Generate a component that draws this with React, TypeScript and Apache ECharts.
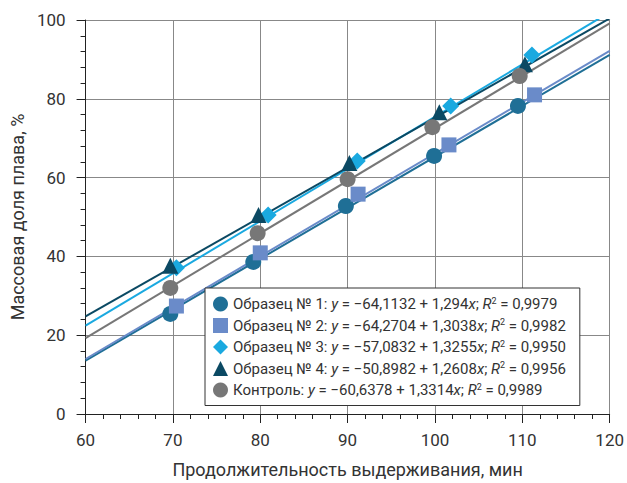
import React, { useEffect, useRef } from "react";
import * as echarts from "echarts";

const seriesNames = ["Образец № 1", "Образец № 2", "Образец № 3", "Образец № 4", "Контроль"];
const s1X = [69.7, 79.2, 89.8, 99.9, 109.5];
const s1Y = [25.4, 38.6, 52.8, 65.5, 78.2];
const s2X = [70.4, 80.0, 91.2, 101.6, 111.4];
const s2Y = [27.4, 40.9, 55.8, 68.3, 81.0];
const s3X = [70.4, 80.9, 91.1, 101.8, 111.1];
const s3Y = [37.1, 50.5, 64.2, 78.2, 91.1];
const s4X = [69.7, 79.8, 90.2, 100.5, 110.3];
const s4Y = [37.6, 50.5, 63.7, 76.6, 88.8];
const cX = [69.7, 79.7, 90.0, 99.7, 109.7];
const cY = [32.0, 45.9, 59.6, 72.8, 85.8];
const intercepts = [-64.1132, -64.2704, -57.0832, -50.8982, -60.6378];
const slopes = [1.294, 1.3038, 1.3255, 1.2608, 1.3314];
const r2 = ["0,9979", "0,9982", "0,9950", "0,9956", "0,9989"];
const interceptText = ["−64,1132", "−64,2704", "−57,0832", "−50,8982", "−60,6378"];
const slopeText = ["1,294", "1,3038", "1,3255", "1,2608", "1,3314"];
const xRange = [60, 120];

const colors = ["#1f6f96", "#6a8bc9", "#1aa9e0", "#0b4963", "#777777"];
const symbols = ["circle", "rect", "diamond", "triangle", "circle"];
const symbolSizes = [16, 15, 17, 16, 16];

const FONT = "Roboto, 'Noto Sans', sans-serif";

export default function App() {
  const ref = useRef<HTMLDivElement>(null);
  useEffect(() => {
    const chart = echarts.init(ref.current!, undefined, { renderer: "svg" });
    const xs = [s1X, s2X, s3X, s4X, cX];
    const ys = [s1Y, s2Y, s3Y, s4Y, cY];
    const lineSeries = seriesNames.map((n, i) => ({
      name: n + " (линия)",
      type: "line",
      data: xRange.map((x) => [x, intercepts[i] + slopes[i] * x]),
      symbol: "none",
      clip: true,
      silent: true,
      lineStyle: { color: colors[i], width: 2 },
      z: 2,
    }));
    const scatterSeries = seriesNames.map((n, i) => ({
      name: n,
      type: "scatter",
      data: xs[i].map((x, j) => [x, ys[i][j]]),
      symbol: symbols[i],
      symbolSize: symbolSizes[i],
      itemStyle: { color: colors[i], opacity: 1 },
      z: 3,
    }));
    const legendLabel = (name: string) => {
      const i = seriesNames.indexOf(name);
      return `{n|${name}: }{i|y}{n| = ${interceptText[i]} + ${slopeText[i]}}{i|x}{n|; }{i|R}{s|2}{n| = ${r2[i]}}`;
    };
    chart.setOption({
      animation: false,
      grid: { left: 82, right: 12, top: 20, bottom: 69 },
      xAxis: {
        type: "value",
        min: 60,
        max: 120,
        interval: 10,
        name: "Продолжительность выдерживания, мин",
        nameLocation: "middle",
        nameGap: 46,
        nameTextStyle: { fontSize: 18, color: "#333", fontFamily: FONT },
        axisLine: { onZero: false, lineStyle: { color: "#222", width: 1 } },
        axisTick: { show: true, length: 9, lineStyle: { color: "#222" } },
        minorTick: { show: true, splitNumber: 5, length: 5, lineStyle: { color: "#222" } },
        axisLabel: { fontSize: 17, color: "#333", fontFamily: FONT, margin: 17 },
        splitLine: { show: true, lineStyle: { color: "#888", width: 1 } },
      },
      yAxis: {
        type: "value",
        min: 0,
        max: 100,
        interval: 20,
        name: "Массовая доля плава, %",
        nameLocation: "middle",
        nameGap: 54,
        nameTextStyle: { fontSize: 18, color: "#333", fontFamily: FONT },
        axisLine: { show: true, lineStyle: { color: "#222", width: 1 } },
        axisTick: { show: true, length: 9, lineStyle: { color: "#222" } },
        minorTick: { show: true, splitNumber: 5, length: 5, lineStyle: { color: "#222" } },
        axisLabel: { fontSize: 17, color: "#333", fontFamily: FONT, margin: 20 },
        splitLine: { show: true, lineStyle: { color: "#888", width: 1 } },
      },
      legend: {
        data: seriesNames.map((n, i) => ({ name: n, icon: symbols[i] })),
        orient: "vertical",
        left: 205,
        top: 288,
        itemGap: 6,
        itemWidth: 15,
        itemHeight: 15,
        padding: [8, 14, 8, 8],
        backgroundColor: "#fff",
        borderColor: "#333",
        borderWidth: 1,
        borderRadius: 0,
        z: 10,
        formatter: legendLabel,
        textStyle: {
          fontFamily: FONT,
          fontSize: 15,
          color: "#333",
          rich: {
            n: { fontSize: 15, fontFamily: FONT, color: "#333", lineHeight: 16 },
            i: { fontSize: 15, fontFamily: FONT, color: "#333", fontStyle: "italic", lineHeight: 16 },
            s: { fontSize: 9, fontFamily: FONT, color: "#333", verticalAlign: "top", lineHeight: 16 },
          },
        },
      },
      series: [...lineSeries, ...scatterSeries],
    });
    return () => chart.dispose();
  }, []);
  return <div ref={ref} style={{ width: 627, height: 483, position: "absolute", left: 0, top: 0 }} />;
}
